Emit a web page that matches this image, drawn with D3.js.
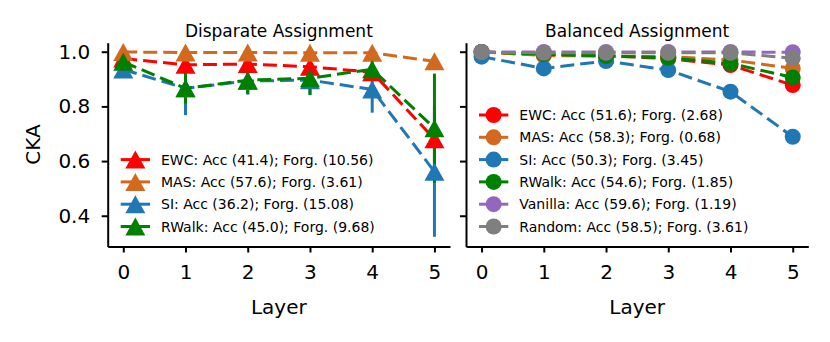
<!DOCTYPE html>
<html>
<head>
<meta charset="utf-8">
<script src="https://cdn.jsdelivr.net/npm/d3@7"></script>
<style>
  html, body { margin: 0; padding: 0; background: #fff; }
  svg text { font-family: "DejaVu Sans", sans-serif; fill: #000; }
</style>
</head>
<body>
<svg id="chart" width="830" height="342"></svg>
<script>
// ---------- data ----------
const layers = [0, 1, 2, 3, 4, 5];
const yTicks = [0.4, 0.6, 0.8, 1.0];

// Disparate assignment (triangles, with error bars)
const dispNames = ["EWC: Acc (41.4); Forg. (10.56)", "MAS: Acc (57.6); Forg. (3.61)", "SI: Acc (36.2); Forg. (15.08)", "RWalk: Acc (45.0); Forg. (9.68)"];
const dispEWC   = [0.975, 0.952, 0.955, 0.945, 0.925, 0.680];
const dispMAS   = [0.999, 0.997, 0.997, 0.996, 0.996, 0.965];
const dispSI    = [0.935, 0.866, 0.893, 0.896, 0.862, 0.561];
const dispRWalk = [0.963, 0.866, 0.896, 0.903, 0.936, 0.720];
const dispEWCErr   = [0.010, 0.020, 0.015, 0.020, 0.015, 0.040];
const dispMASErr   = [0.003, 0.004, 0.004, 0.004, 0.004, 0.010];
const dispSIErr    = [0.025, 0.098, 0.050, 0.055, 0.085, 0.238];
const dispRWalkErr = [0.020, 0.055, 0.050, 0.060, 0.030, 0.200];

// Balanced assignment (circles)
const balNames = ["EWC: Acc (51.6); Forg. (2.68)", "MAS: Acc (58.3); Forg. (0.68)", "SI: Acc (50.3); Forg. (3.45)", "RWalk: Acc (54.6); Forg. (1.85)", "Vanilla: Acc (59.6); Forg. (1.19)", "Random: Acc (58.5); Forg. (3.61)"];
const balEWC     = [0.999, 0.990, 0.985, 0.975, 0.951, 0.878];
const balMAS     = [0.999, 0.986, 0.984, 0.982, 0.970, 0.939];
const balSI      = [0.982, 0.939, 0.966, 0.933, 0.854, 0.689];
const balRWalk   = [0.999, 0.991, 0.984, 0.978, 0.957, 0.906];
const balVanilla = [0.999, 0.999, 0.999, 0.999, 0.999, 0.998];
const balRandom  = [0.998, 0.996, 0.996, 0.996, 0.996, 0.976];

const colEWC = "#ff0000", colMAS = "#d2691e", colSI = "#1f77b4", colRWalk = "#008000", colVanilla = "#9467bd", colRandom = "#7f7f7f";

// ---------- layout ----------
const svg = d3.select("#chart");
const titleFs = 17, tickFs = 20, labelFs = 20, legFs = 14;
const plotTop = 42.7, plotBottom = 246.5;
const panels = [
  { x0: 107.7, x1: 450.0, title: "Disparate Assignment", marker: "tri", showY: true,
    series: [
      { name: dispNames[0], vals: dispEWC, err: dispEWCErr, col: colEWC },
      { name: dispNames[1], vals: dispMAS, err: dispMASErr, col: colMAS },
      { name: dispNames[2], vals: dispSI, err: dispSIErr, col: colSI },
      { name: dispNames[3], vals: dispRWalk, err: dispRWalkErr, col: colRWalk }
    ] },
  { x0: 466.0, x1: 808.3, title: "Balanced Assignment", marker: "circ", showY: false,
    series: [
      { name: balNames[0], vals: balEWC, col: colEWC },
      { name: balNames[1], vals: balMAS, col: colMAS },
      { name: balNames[2], vals: balSI, col: colSI },
      { name: balNames[3], vals: balRWalk, col: colRWalk },
      { name: balNames[4], vals: balVanilla, col: colVanilla },
      { name: balNames[5], vals: balRandom, col: colRandom }
    ] }
];

const y = d3.scaleLinear().domain([0.2875, 1.033]).range([plotBottom, plotTop]);
const triW = 20, triH = 18, circR = 8;
const triPath = `M0,${-triH/2}L${triW/2},${triH/2}L${-triW/2},${triH/2}Z`;

function drawMarker(g, kind, cx, cy, col) {
  if (kind === "tri") {
    g.append("path").attr("d", triPath).attr("transform", `translate(${cx},${cy})`).attr("fill", col);
  } else {
    g.append("circle").attr("cx", cx).attr("cy", cy).attr("r", circR).attr("fill", col);
  }
}

panels.forEach(p => {
  const x = d3.scaleLinear().domain([-0.25, 5.25]).range([p.x0, p.x1]);
  const g = svg.append("g");

  // error bars (below all lines)
  p.series.forEach(s => {
    if (!s.err) return;
    layers.forEach((l, i) => {
      g.append("line")
        .attr("x1", x(l)).attr("x2", x(l))
        .attr("y1", y(s.vals[i] - s.err[i])).attr("y2", y(s.vals[i] + s.err[i]))
        .attr("stroke", s.col).attr("stroke-width", 3);
    });
  });

  // lines + markers
  const line = d3.line().x((d, i) => x(layers[i])).y(d => y(d));
  p.series.forEach(s => {
    g.append("path").datum(s.vals).attr("d", line)
      .attr("fill", "none").attr("stroke", s.col).attr("stroke-width", 3)
      .attr("stroke-dasharray", "14,6");
    s.vals.forEach((v, i) => drawMarker(g, p.marker, x(layers[i]), y(v), s.col));
  });

  // axes
  const xAxis = d3.axisBottom(x).tickValues(layers).tickFormat(d3.format("d")).tickSize(6).tickSizeOuter(0).tickPadding(12.5);
  const gx = svg.append("g").attr("transform", `translate(0,${plotBottom})`).call(xAxis);
  const yAxis = d3.axisLeft(y).tickValues(yTicks).tickFormat(d3.format(".1f")).tickSize(6).tickSizeOuter(0).tickPadding(11.5);
  const gy = svg.append("g").attr("transform", `translate(${p.x0},0)`).call(yAxis);
  if (!p.showY) gy.selectAll(".tick text").remove();
  [gx, gy].forEach(a => {
    a.select(".domain").attr("stroke", "#000").attr("stroke-width", 2);
    a.selectAll(".tick line").attr("stroke", "#000").attr("stroke-width", 2);
    a.selectAll(".tick text").attr("font-size", tickFs).attr("font-family", "DejaVu Sans").attr("fill", "#000");
  });

  // title
  svg.append("text").attr("x", (p.x0 + p.x1) / 2).attr("y", 36.7)
    .attr("text-anchor", "middle").attr("font-size", titleFs).text(p.title);

  // x label
  svg.append("text").attr("x", (p.x0 + p.x1) / 2).attr("y", 314)
    .attr("text-anchor", "middle").attr("font-size", labelFs).text("Layer");

  // legend
  const n = p.series.length;
  p.series.forEach((s, k) => {
    const ry = 226.5 - (n - 1 - k) * 22.3;
    const hx0 = p.x0 + 13, hx1 = p.x0 + 42.3;
    svg.append("line").attr("x1", hx0).attr("x2", hx1).attr("y1", ry).attr("y2", ry)
      .attr("stroke", s.col).attr("stroke-width", 3);
    drawMarker(svg, p.marker, (hx0 + hx1) / 2, ry, s.col);
    svg.append("text").attr("x", p.x0 + 53.3).attr("y", ry).attr("dy", "0.36em")
      .attr("font-size", legFs).text(s.name);
  });
});

// y label
svg.append("text").attr("transform", `translate(40,${(plotTop + plotBottom) / 2}) rotate(-90)`)
  .attr("text-anchor", "middle").attr("font-size", labelFs).text("CKA");
</script>
</body>
</html>
